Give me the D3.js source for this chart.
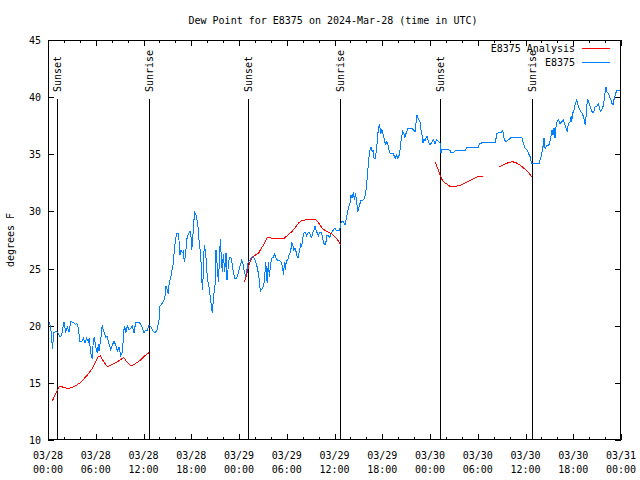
<!DOCTYPE html>
<html><head><meta charset="utf-8">
<script src="https://cdn.jsdelivr.net/npm/d3@7"></script>
<style>body{margin:0;background:#fff}svg{display:block}text{font-family:"DejaVu Sans Mono",monospace;font-size:10px;fill:#000}</style>
</head><body><svg id="c" width="640" height="480"></svg>
<script>
// hours since 2024-03-28 00:00 UTC
const obsHours = [0,0.25,0.46,0.54,0.75,1.0,1.22,1.51,1.72,2.01,2.22,2.43,2.64,2.85,3.18,3.48,3.61,3.81,4.02,4.23,4.44,4.65,4.86,5.06,5.19,5.37,5.57,5.69,5.82,5.99,6.2,6.32,6.41,6.62,6.82,6.95,7.07,7.25,7.45,7.67,7.88,8.08,8.29,8.51,8.71,8.92,9.14,9.34,9.46,9.59,9.8,9.97,10.18,10.39,10.59,10.81,11.02,11.44,11.65,11.85,12.06,12.28,12.48,12.69,12.94,13.23,13.45,13.7,13.95,14.07,14.29,14.58,14.7,14.83,14.99,15.12,15.24,15.42,15.54,15.75,15.87,16.05,16.17,16.37,16.5,16.59,16.71,16.88,17.0,17.13,17.3,17.43,17.55,17.76,17.93,18.06,18.18,18.31,18.43,18.6,18.76,18.89,19.01,19.19,19.31,19.44,19.52,19.64,19.82,19.94,20.07,20.23,20.36,20.48,20.65,20.77,20.9,21.02,21.11,21.27,21.4,21.53,21.65,21.78,21.9,22.03,22.2,22.37,22.49,22.66,22.78,22.96,23.12,23.29,23.46,23.71,23.91,24.13,24.34,24.47,24.63,24.84,24.97,25.17,25.38,25.6,25.8,26.01,26.23,26.43,26.55,26.68,26.85,27.06,27.18,27.36,27.48,27.56,27.68,27.81,27.94,28.11,28.31,28.44,28.61,28.81,29.03,29.24,29.44,29.62,29.69,29.82,29.95,30.12,30.28,30.5,30.62,30.75,30.87,31.04,31.16,31.33,31.45,31.58,31.76,31.88,32.01,32.17,32.33,32.51,32.63,32.8,33.01,33.14,33.26,33.43,33.55,33.68,33.84,33.97,34.09,34.27,34.39,34.52,34.64,34.81,34.93,35.06,35.22,35.4,35.56,35.73,35.9,36.06,36.23,36.4,36.57,36.65,36.78,36.91,37.11,37.32,37.54,37.74,37.95,38.08,38.2,38.37,38.5,38.62,38.79,38.92,39.08,39.21,39.33,39.46,39.62,39.8,39.96,40.09,40.21,40.34,40.46,40.59,40.72,40.84,40.97,41.09,41.22,41.35,41.43,41.56,41.68,41.81,41.94,42.06,42.19,42.31,42.44,42.56,42.69,42.81,42.98,43.19,43.39,43.52,43.64,43.82,43.94,44.07,44.19,44.32,44.45,44.57,44.7,44.82,44.95,45.08,45.24,45.49,45.7,45.9,46.12,46.24,46.37,46.49,46.62,46.75,46.87,47.0,47.12,47.25,47.38,47.5,47.63,47.75,47.88,48.0,48.22,48.42,48.63,48.85,49.05,49.26,49.39,49.47,49.67,50.3,50.51,50.64,50.93,51.14,51.77,52.4,52.61,53.44,54.07,54.2,54.5,55.13,56.17,56.3,56.39,56.59,56.8,57.02,57.14,57.22,57.35,57.56,57.77,57.98,58.06,58.28,58.91,59.32,59.54,59.66,59.82,59.95,60.16,60.36,60.58,60.7,60.79,61.2,61.71,61.96,62.17,62.33,62.46,62.67,62.87,63.0,63.17,63.33,63.46,63.59,63.71,63.84,63.96,64.13,64.34,64.55,64.75,64.97,65.18,65.26,65.38,65.6,65.72,65.81,65.94,66.1,66.27,66.44,66.61,66.77,66.95,67.12,67.28,67.5,67.58,67.71,67.84,68.0,68.13,68.34,68.54,68.76,68.97,69.18,69.39,69.6,69.8,69.93,70.11,70.23,70.44,70.56,70.74,70.86,70.99,71.15,71.32,71.46,71.79,72.0];
const obsDew = [20.6,20.1,19.2,18.0,19.4,19.5,19.4,19.0,19.2,20.35,19.4,19.9,19.45,20.35,20.3,20.1,20.2,19.8,18.6,18.6,18.9,18.5,18.9,18.6,18.9,17.6,17.06,18.75,19.0,18.2,17.6,18.4,17.8,18.75,20.06,19.6,19.4,19.0,19.05,18.4,17.9,18.3,18.65,18.3,17.8,18.1,17.4,17.7,18.85,20.0,19.4,20.0,19.6,19.75,20.0,19.4,20.3,20.3,20.1,19.8,19.4,19.6,19.6,20.06,19.9,19.5,19.4,19.6,20.5,21.7,21.9,22.25,22.54,23.5,23.1,22.8,23.85,24.15,24.7,25.46,26.6,27.65,28.1,28.1,27.2,26.2,26.6,26.4,26.5,25.6,26.3,27.5,27.9,28.2,28.25,26.6,27.5,29.0,29.9,29.7,29.1,28.4,27.2,26.3,24.0,23.1,25.2,27.1,26.3,24.9,24.0,23.4,22.7,21.96,21.1,22.25,23.1,23.7,26.6,25.2,23.85,25.5,27.55,26.0,24.7,26.3,24.7,26.4,24.0,25.2,26.0,26.0,25.5,24.7,24.15,24.15,24.6,25.2,25.75,25.5,24.9,24.3,24.8,25.6,25.75,26.0,26.05,25.75,25.3,24.6,24.0,23.0,23.2,23.4,23.85,25.6,24.15,23.7,25.6,24.3,25.2,25.9,26.0,26.3,26.0,25.75,25.7,25.65,25.2,24.4,25.6,24.9,25.7,25.75,26.2,26.5,27.35,27.1,26.6,26.75,26.5,26.0,26.0,26.5,27.2,26.9,27.65,28.1,28.15,27.85,28.1,28.2,27.85,27.7,28.1,28.4,28.7,28.35,28.1,27.85,28.1,28.2,28.1,27.65,27.2,27.1,27.35,27.9,27.9,27.7,28.1,28.25,28.44,28.5,28.35,28.3,28.3,28.4,28.96,29.1,29.1,28.8,29.54,30.27,30.7,31.44,31.15,31.7,31.0,31.6,30.85,29.98,30.4,30.7,31.0,30.9,31.0,31.15,31.9,32.75,33.77,34.8,35.4,35.66,35.25,35.4,34.65,34.6,35.1,36.0,36.7,37.4,37.56,36.8,37.2,36.9,36.5,36.1,35.85,36.1,35.95,35.5,35.1,35.1,35.1,34.8,34.65,34.95,34.65,34.8,35.1,36.0,36.6,37.0,36.9,36.45,36.75,37.0,37.3,37.3,37.3,37.15,37.0,37.7,38.44,38.15,38.0,37.85,37.1,36.7,36.0,36.3,36.15,36.4,36.55,36.25,36.0,35.8,36.05,36.25,35.95,36.3,36.1,36.0,35.1,35.4,35.4,35.4,35.35,35.14,35.14,35.3,35.3,35.3,35.58,35.58,35.6,35.9,36.0,36.0,36.0,36.4,36.8,36.9,36.85,36.95,37.1,36.7,36.25,36.1,36.25,36.3,36.4,36.5,36.5,36.45,36.45,36.1,35.8,35.55,35.4,35.1,34.8,34.35,34.2,34.2,34.2,34.8,35.5,36.4,35.5,35.8,35.75,35.9,36.5,37.1,36.7,37.3,36.4,37.4,37.85,38.0,37.7,37.85,38.0,37.56,37.1,36.95,37.7,37.85,38.3,37.85,38.6,38.9,39.46,39.75,39.3,39.0,38.7,38.6,38.3,37.56,38.0,39.3,39.75,39.45,39.2,38.75,38.64,39.2,39.2,39.45,38.75,38.9,39.3,40.04,40.9,40.45,40.3,40.0,39.75,39.45,39.3,39.9,40.3,40.56,40.56,40.56];
// analysis (null = gap)
const anaHours = [0.54,0.88,1.09,1.38,1.6,1.92,2.35,2.76,3.18,3.61,4.02,4.44,4.86,5.28,5.69,5.99,6.32,6.57,6.95,7.16,7.5,7.92,8.33,8.76,9.17,9.51,9.89,10.3,10.59,11.02,11.44,11.85,12.28,12.69,18.0,
 24.67,24.84,25.04,25.22,25.38,25.6,25.89,26.23,26.51,26.73,26.93,27.14,27.36,27.56,27.9,28.53,29.15,29.69,30.0,30.28,30.62,30.91,31.16,31.45,31.67,31.88,32.3,32.92,33.64,33.89,34.09,34.3,34.59,34.9,35.22,35.56,35.85,36.15,36.4,36.6,36.78,42.0,
 48.63,48.85,49.05,49.26,49.47,49.67,50.1,50.51,51.14,51.77,52.19,52.61,53.03,53.44,53.87,54.29,54.7,55.5,
 56.71,57.02,57.43,57.85,58.28,58.69,58.98,59.32,59.66,59.95,60.24,60.49,60.79];
const anaDew = [13.4,13.94,14.23,14.66,14.72,14.6,14.53,14.55,14.66,14.8,15.0,15.3,15.6,15.98,16.4,16.85,17.3,17.35,16.9,16.7,16.4,16.56,16.7,16.85,17.06,17.23,16.85,16.56,16.5,16.7,16.9,17.15,17.44,17.64,null,
 23.8,24.15,24.7,25.2,25.6,25.9,26.1,26.25,26.4,26.7,26.9,27.15,27.44,27.7,27.68,27.65,27.65,27.65,27.85,28.0,28.23,28.44,28.67,28.96,29.1,29.2,29.25,29.27,29.27,29.1,28.9,28.67,28.44,28.3,28.17,28.08,27.94,27.7,27.5,27.27,27.06,null,
 34.35,33.97,33.6,33.2,32.84,32.6,32.4,32.2,32.2,32.25,32.4,32.55,32.7,32.84,33.0,33.07,33.1,null,
 33.92,34.0,34.15,34.27,34.35,34.3,34.2,34.06,33.86,33.7,33.5,33.3,33.04];
const sunHours = [1.13,12.69,25.15,36.72,49.26,60.8];
const sunLabels = ["Sunset","Sunrise","Sunset","Sunrise","Sunset","Sunrise"];
const yTicks = [10,15,20,25,30,35,40,45];
const seriesNames = ["E8375 Analysis","E8375"];
const seriesColors = ["#ff0000","#0080ff"];
const title = "Dew Point for E8375 on 2024-Mar-28 (time in UTC)";
const yLabel = "degrees F";

const t0 = Date.UTC(2024,2,28);
const toDate = h => new Date(t0 + h*3600e3);
const svg = d3.select("#c");
const L=48,R=621,T=40,B=440;
const x = d3.scaleUtc().domain([toDate(0),toDate(72)]).range([L,R]);
const y = d3.scaleLinear().domain([10,45]).range([B,T]);

// ticks
const major = d3.utcHour.every(6).range(toDate(0), toDate(72.01));
const minor = d3.utcHour.every(2).range(toDate(0), toDate(72.01));
const g = svg.append("g").attr("stroke","#000").attr("stroke-width",1).attr("shape-rendering","crispEdges");
minor.forEach(d=>{const px=Math.round(x(d))+0.5;
  g.append("line").attr("x1",px).attr("x2",px).attr("y1",B).attr("y2",B-3);
  g.append("line").attr("x1",px).attr("x2",px).attr("y1",T).attr("y2",T+3);});
major.forEach(d=>{const px=Math.round(x(d))+0.5;
  g.append("line").attr("x1",px).attr("x2",px).attr("y1",B).attr("y2",B-6);
  g.append("line").attr("x1",px).attr("x2",px).attr("y1",T).attr("y2",T+6);});
yTicks.forEach(v=>{const py=Math.round(y(v))+0.5;
  g.append("line").attr("x1",L).attr("x2",L+6).attr("y1",py).attr("y2",py);
  g.append("line").attr("x1",R-6).attr("x2",R).attr("y1",py).attr("y2",py);});

const fmtD=d3.utcFormat("%m/%d"), fmtT=d3.utcFormat("%H:%M");
major.forEach(d=>{
  svg.append("text").attr("x",x(d)).attr("y",459).attr("text-anchor","middle").text(fmtD(d));
  svg.append("text").attr("x",x(d)).attr("y",473).attr("text-anchor","middle").text(fmtT(d));
});
yTicks.forEach(v=>svg.append("text").attr("x",41).attr("y",y(v)+4).attr("text-anchor","end").text(v));

// sun lines
sunHours.forEach((h,i)=>{
  const px=Math.round(x(toDate(h)))+0.5;
  g.append("line").attr("x1",px).attr("x2",px).attr("y1",99).attr("y2",B);
  svg.append("text").attr("transform",`translate(${px+3.5},92) rotate(-90)`).text(sunLabels[i]);
});

// series
const line = d3.line().defined(d=>d[1]!==null).x(d=>x(toDate(d[0]))).y(d=>y(d[1]));
svg.append("path").datum(obsHours.map((h,i)=>[h,obsDew[i]])).attr("d",line)
  .attr("fill","none").attr("stroke",seriesColors[1]).attr("stroke-width",1).attr("shape-rendering","crispEdges");
svg.append("path").datum(anaHours.map((h,i)=>[h,anaDew[i]])).attr("d",line)
  .attr("fill","none").attr("stroke",seriesColors[0]).attr("stroke-width",1).attr("shape-rendering","crispEdges");

// frame
svg.append("rect").attr("x",L+0.5).attr("y",T+0.5).attr("width",R-L-1).attr("height",B-T-1)
  .attr("fill","none").attr("stroke","#000").attr("shape-rendering","crispEdges");

// legend
seriesNames.forEach((n,i)=>{
  const ly=48+i*14;
  svg.append("text").attr("x",575).attr("y",ly+4).attr("text-anchor","end").text(n);
  svg.append("line").attr("x1",582).attr("x2",610).attr("y1",ly+0.5).attr("y2",ly+0.5)
    .attr("stroke",seriesColors[i]).attr("shape-rendering","crispEdges");
});

svg.append("text").attr("x",333).attr("y",24).attr("text-anchor","middle").text(title);
svg.append("text").attr("transform","translate(14,240) rotate(-90)").attr("text-anchor","middle").text(yLabel);
</script></body></html>
